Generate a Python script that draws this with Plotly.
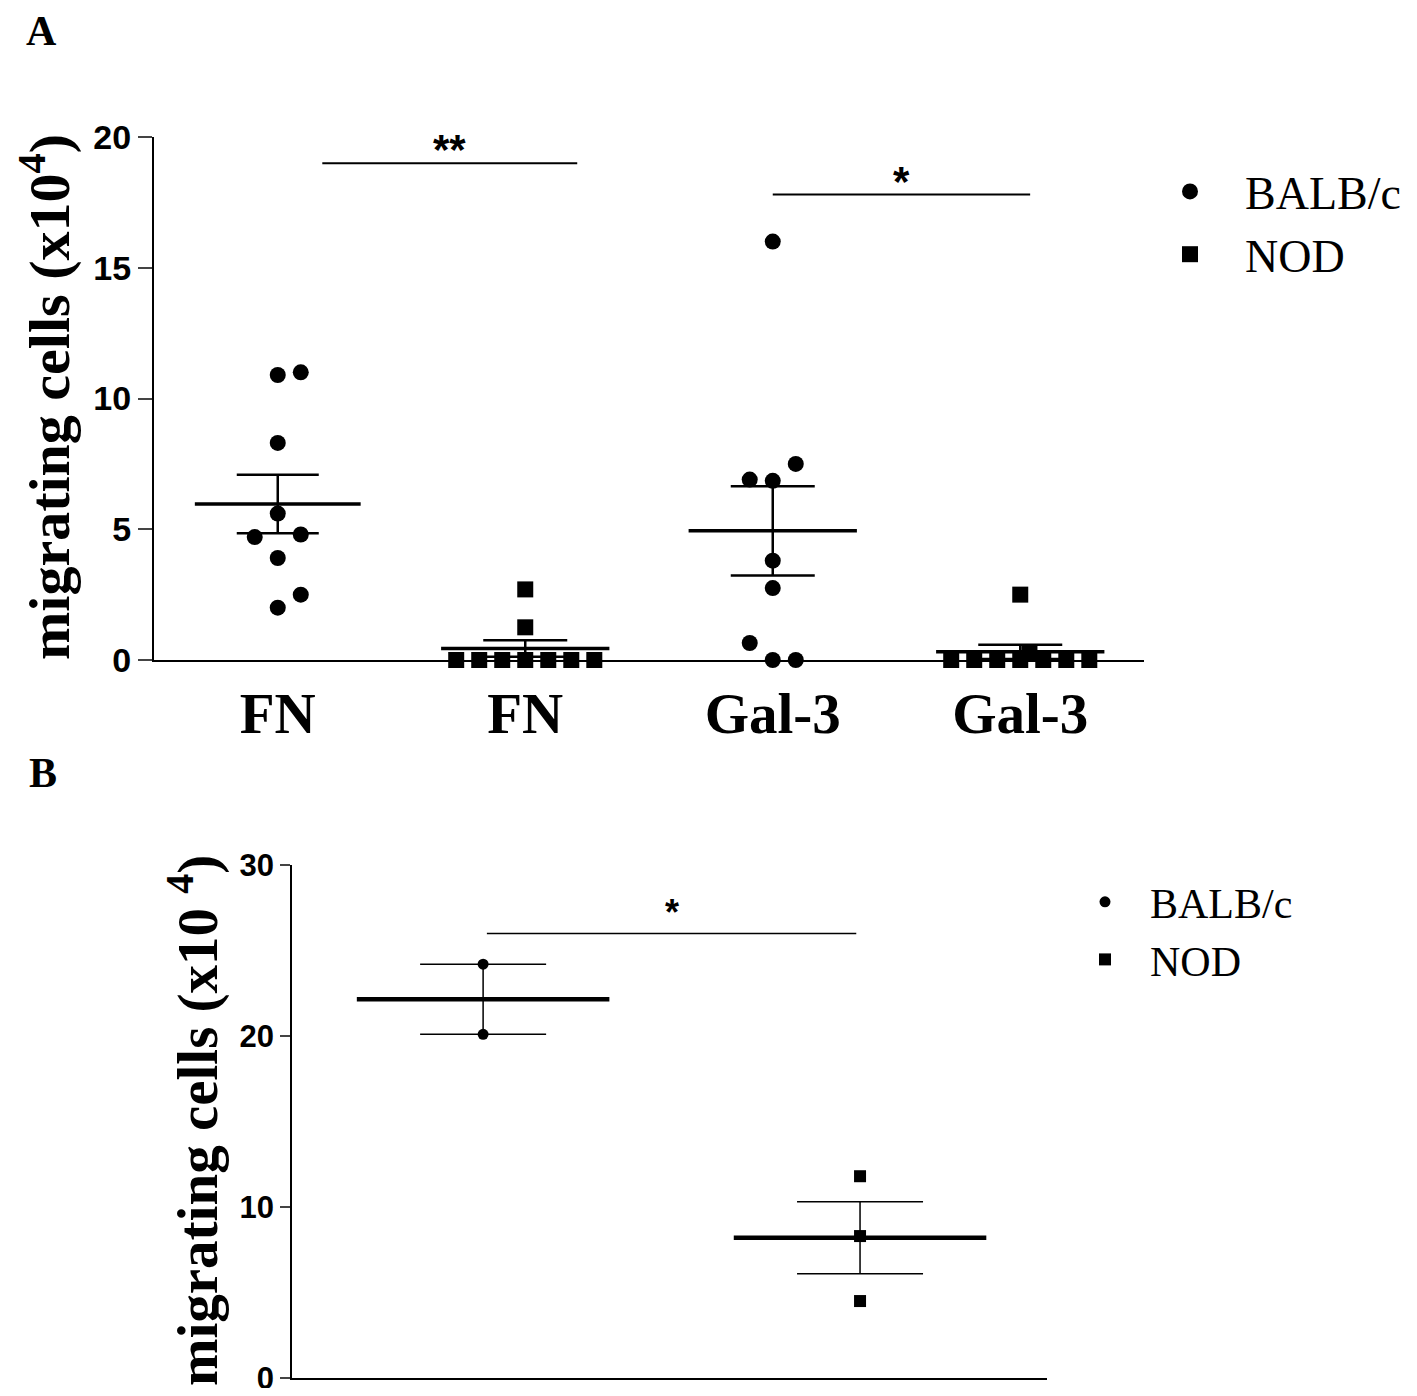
import numpy as np
import plotly.graph_objects as go

# ---- panel A: migration on FN / Gal-3 ----
a_ticks = ["FN", "FN", "Gal-3", "Gal-3"]
fn_balb = [10.9, 11.0, 8.3, 5.6, 4.7, 4.8, 3.9, 2.0, 2.5]
fn_nod = [0, 0, 0, 0, 0, 0, 0, 1.25, 2.7]
gal_balb = [16.0, 7.5, 6.9, 6.85, 3.8, 2.75, 0.65, 0, 0]
gal_nod = [0, 0, 0, 0, 0, 0, 0, 0.3, 2.5]
# sideways spread of the dots (in dot widths)
fn_balb_spread = [0, 1, 0, 0, -1, 1, 0, 0, 1]
fn_nod_spread = [-3, -2, -1, 0, 1, 2, 3, 0, 0]
gal_balb_spread = [0, 1, -1, 0, 0, 0, -1, 0, 1]
gal_nod_spread = [-3, -2, -1, 0, 1, 2, 3, 0.4, 0]

# ---- panel B ----
b_balb = [24.2, 20.1]
b_nod = [11.8, 8.3, 4.5]

# significance brackets: (x0, x1, y, label)
a_sig = [(0.18, 1.21, 19.0, "**"), (2.0, 3.04, 17.8, "*")]
b_sig = [(0.01, 0.99, 26.0, "*")]

SERIF = "Liberation Serif"
SANS = "Liberation Sans"
DOT = 0.093

# page puts the figure 8px in from the corner, so lay out on a smaller canvas
W, H = 1401, 1380


def fx(p):
    return (p - 8) / W


def fy(p):
    return 1 - (p - 8) / H


def mean_sem(v):
    v = np.array(v, dtype=float)
    return v.mean(), v.std(ddof=1) / np.sqrt(len(v))


fig = go.Figure()


def add_group(xpos, vals, spread, symbol, name, show, xa, ya, legend,
              msize, half, cap, mthick, ethick, step):
    x = [xpos + s * step for s in spread]
    fig.add_trace(go.Scatter(
        x=x, y=vals, mode="markers", name=name, legend=legend,
        showlegend=show, cliponaxis=False, xaxis=xa, yaxis=ya,
        marker=dict(symbol=symbol, size=msize, color="black")))
    m, s = mean_sem(vals)
    fig.add_trace(go.Scatter(
        x=[xpos - half, xpos + half], y=[m, m], mode="lines",
        line=dict(color="black", width=mthick), showlegend=False,
        cliponaxis=False, xaxis=xa, yaxis=ya))
    fig.add_trace(go.Scatter(
        x=[xpos], y=[m], mode="markers", marker=dict(size=0.1, opacity=0),
        error_y=dict(type="data", array=[s], width=cap, thickness=ethick,
                     color="black"),
        showlegend=False, cliponaxis=False, xaxis=xa, yaxis=ya))


add_group(0, fn_balb, fn_balb_spread, "circle", "BALB/c", True, "x", "y",
          "legend", 16, 0.335, 41, 3.5, 2.5, DOT)
add_group(1, fn_nod, fn_nod_spread, "square", "NOD", True, "x", "y",
          "legend", 16, 0.34, 42, 3.5, 2.5, DOT)
add_group(2, gal_balb, gal_balb_spread, "circle", "BALB/c", False, "x", "y",
          "legend", 16, 0.34, 42, 3.5, 2.5, DOT)
add_group(3, gal_nod, gal_nod_spread, "square", "NOD", False, "x", "y",
          "legend", 16, 0.34, 42, 3.5, 2.5, DOT)

add_group(0, b_balb, [0] * len(b_balb), "circle", "BALB/c", True, "x2", "y2",
          "legend2", 11, 0.335, 63, 4.5, 1.5, 0)
add_group(1, b_nod, [0] * len(b_nod), "square", "NOD", True, "x2", "y2",
          "legend2", 12, 0.335, 63, 4.5, 1.5, 0)

shapes = []
annotations = []
for x0, x1, y, lab in a_sig:
    shapes.append(dict(type="line", xref="x", yref="y", x0=x0, x1=x1, y0=y, y1=y,
                       line=dict(color="black", width=2)))
    annotations.append(dict(xref="x", yref="y", x=(x0 + x1) / 2, y=y, text=lab,
                            showarrow=False, yanchor="bottom", yshift=-12,
                            font=dict(family=SANS, size=42, color="black",
                                      weight="bold")))
for x0, x1, y, lab in b_sig:
    shapes.append(dict(type="line", xref="x2", yref="y2", x0=x0, x1=x1, y0=y, y1=y,
                       line=dict(color="black", width=1.5)))
    annotations.append(dict(xref="x2", yref="y2", x=(x0 + x1) / 2, y=y, text=lab,
                            showarrow=False, yanchor="bottom", yshift=-2,
                            font=dict(family=SANS, size=36, color="black",
                                      weight="bold")))

annotations += [
    dict(xref="paper", yref="paper", x=fx(41), y=fy(31), text="A",
         xanchor="center", yanchor="middle", showarrow=False,
         font=dict(family=SERIF, size=42, color="black", weight="bold")),
    dict(xref="paper", yref="paper", x=fx(43), y=fy(773), text="B",
         xanchor="center", yanchor="middle", showarrow=False,
         font=dict(family=SERIF, size=42, color="black", weight="bold")),
    dict(xref="paper", yref="paper", x=fx(46), y=fy(397),
         text="migrating cells (x10<sup>4</sup>)", textangle=-90, showarrow=False,
         xanchor="center", yanchor="middle",
         font=dict(family=SERIF, size=58, color="black", weight="bold")),
    dict(xref="paper", yref="paper", x=fx(193), y=fy(1120),
         text="migrating cells (x10 <sup>4</sup>)", textangle=-90, showarrow=False,
         xanchor="center", yanchor="middle",
         font=dict(family=SERIF, size=57, color="black", weight="bold")),
]

fig.update_layout(
    width=W, height=H,
    margin=dict(l=0, r=0, t=0, b=0, autoexpand=False),
    paper_bgcolor="white", plot_bgcolor="white",
    shapes=shapes, annotations=annotations,
    xaxis=dict(domain=[fx(154), fx(1144)], range=[-0.5, 3.5],
               tickvals=[0, 1, 2, 3], ticktext=a_ticks, ticks="",
               showline=True, linewidth=2, linecolor="black", showgrid=False,
               zeroline=False, ticklabelstandoff=3, automargin=False,
               tickfont=dict(family=SERIF, size=57, color="black", weight="bold")),
    yaxis=dict(domain=[fy(660), fy(137)], range=[0, 20],
               tickvals=[0, 5, 10, 15, 20], ticks="outside", ticklen=14, tickwidth=2,
               showline=True, linewidth=2, linecolor="black", showgrid=False,
               zeroline=False, automargin=False,
               tickfont=dict(family=SANS, size=34, color="black", weight="bold")),
    xaxis2=dict(domain=[fx(292), fx(1047)], range=[-0.507, 1.496],
                showticklabels=False, ticks="", showline=True, linewidth=2,
                linecolor="black", showgrid=False, zeroline=False, anchor="y2",
                automargin=False),
    yaxis2=dict(domain=[fy(1378), fy(865)], range=[0, 30],
                tickvals=[0, 10, 20, 30], ticks="outside", ticklen=10, tickwidth=1.5,
                showline=True, linewidth=1.5, linecolor="black", showgrid=False,
                zeroline=False, anchor="x2", automargin=False,
                ticklabeloverflow="allow",
                tickfont=dict(family=SANS, size=31, color="black", weight="bold")),
    legend=dict(x=fx(1135), y=fy(155), xanchor="left", yanchor="top",
                itemwidth=100, bgcolor="rgba(0,0,0,0)",
                font=dict(family=SERIF, size=46, color="black")),
    legend2=dict(x=fx(1060), y=fy(868), xanchor="left", yanchor="top",
                 itemwidth=80, bgcolor="rgba(0,0,0,0)",
                 font=dict(family=SERIF, size=42, color="black")),
)

fig.write_html("out.html")
